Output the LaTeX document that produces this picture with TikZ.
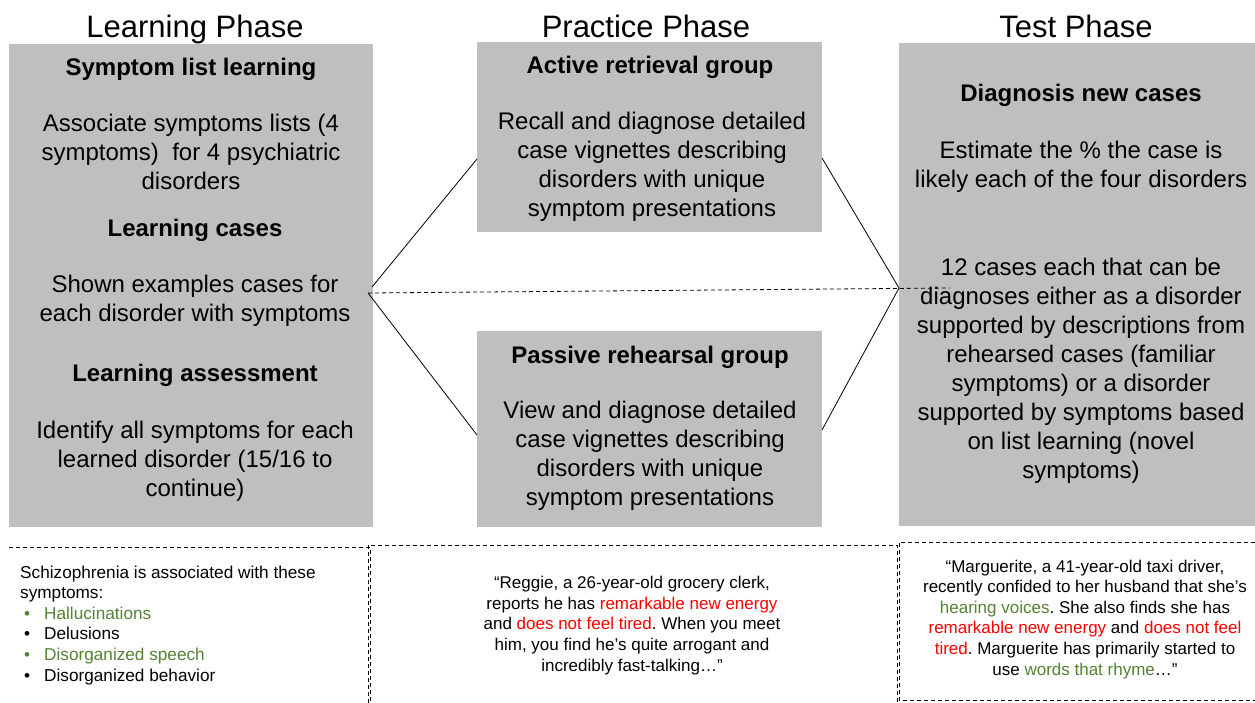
\documentclass[tikz,border=0pt]{standalone}
\usepackage{fontspec}
\setmainfont{Liberation Sans}
\frenchspacing
\usetikzlibrary{positioning}
\definecolor{boxgray}{RGB}{191,191,191}
\definecolor{symgreen}{RGB}{84,130,53}
\definecolor{symred}{RGB}{255,0,0}
\newcommand{\gsym}[1]{\textcolor{symgreen}{#1}}
\newcommand{\rsym}[1]{\textcolor{symred}{#1}}
\newcommand{\bitem}[1]{\hspace*{4pt}\makebox[20pt][l]{•}#1}
\tikzset{
phasebox/.style={
  fill=boxgray,
  draw=none,
  inner sep=0pt,
  anchor=north west
  }
}
% multi-line nodes sit on the baseline of their last line
\tikzset{
phasetitle/.style={anchor=base, inner sep=0pt, font=\fontsize{31}{36}\selectfont},
boxhead/.style={anchor=base, inner sep=0pt, font=\bfseries\fontsize{24}{29}\selectfont},
boxtext/.style={anchor=base, inner sep=0pt, align=center, font=\fontsize{24}{29}\selectfont},
casetext/.style={anchor=base, inner sep=0pt, align=center, font=\fontsize{17}{20.6}\selectfont}
}
\tikzstyle{link} = [draw, line width=0.8pt]
\tikzstyle{sep} = [draw, line width=0.8pt, dash pattern=on 4pt off 3pt]

\begin{document}
\begin{tikzpicture}[x=1pt, y=-1pt]
	\path[use as bounding box] (0,0) rectangle (1255,703);

	%titles
	\node (tlearn) at (195,38) [phasetitle] {Learning Phase};
	\node (tprac) at (646,38) [phasetitle] {Practice Phase};
	\node (ttest) at (1076,38) [phasetitle] {Test Phase};

	%boxes
	\node (learn) at (9,44) [phasebox, minimum width=364pt, minimum height=483pt] {};
	\node (retr) at (477,42) [phasebox, minimum width=345pt, minimum height=190pt] {};
	\node (rehe) at (477,331) [phasebox, minimum width=345pt, minimum height=196pt] {};
	\node (test) at (899,43) [phasebox, minimum width=356pt, minimum height=483pt] {};

	%learning phase
	\node (h00) at (191,76) [boxhead] {Symptom list learning};
	\node (b00) at (191,190) [boxtext] {Associate symptoms lists (4\\symptoms)\ \ for 4 psychiatric\\disorders};
	\node (h01) at (195,237) [boxhead] {Learning cases};
	\node (b01) at (195,321) [boxtext] {Shown examples cases for\\each disorder with symptoms};
	\node (h02) at (195,381) [boxhead] {Learning assessment};
	\node (b02) at (195,496) [boxtext] {Identify all symptoms for each\\learned disorder (15/16 to\\continue)};

	%practice phase
	\node (h10) at (650,74) [boxhead] {Active retrieval group};
	\node (b10) at (652,217) [boxtext] {Recall and diagnose detailed\\case vignettes describing\\disorders with unique\\symptom presentations};
	\node (h11) at (650,363) [boxhead] {Passive rehearsal group};
	\node (b11) at (650,505) [boxtext] {View and diagnose detailed\\case vignettes describing\\disorders with unique\\symptom presentations};

	%test phase
	\node (h20) at (1081,102) [boxhead] {Diagnosis new cases};
	\node (b20) at (1081,188) [boxtext] {Estimate the \% the case is\\likely each of the four disorders};
	\node (b21) at (1081,478) [boxtext] {12 cases each that can be\\diagnoses either as a disorder\\supported by descriptions from\\rehearsed cases (familiar\\symptoms) or a disorder\\supported by symptoms based\\on list learning (novel\\symptoms)};

	%example cases
	\node (c0) at (20,681) [casetext, anchor=base west, align=left, font=\fontsize{17.2}{20.6}\selectfont] {Schizophrenia is associated with these\\symptoms:\\\gsym{\bitem{Hallucinations}}\\\bitem{Delusions}\\\gsym{\bitem{Disorganized speech}}\\\bitem{Disorganized behavior}};
	\node (c1) at (632,671) [casetext] {“Reggie, a 26-year-old grocery clerk,\\reports he has \rsym{remarkable new energy}\\and \rsym{does not feel tired}. When you meet\\him, you find he’s quite arrogant and\\incredibly fast-talking…”};
	\node (c2) at (1085,675) [casetext] {“Marguerite, a 41-year-old taxi driver,\\recently confided to her husband that she’s\\\gsym{hearing voices}. She also finds she has\\\rsym{remarkable new energy} and \rsym{does not feel}\\\rsym{tired}. Marguerite has primarily started to\\use \gsym{words that rhyme}…”};

	%edges
	\coordinate (lout) at (372,287);
	\coordinate (lhub) at (368,293);
	\coordinate (retrin) at (477,159);
	\coordinate (rehein) at (477,435);
	\coordinate (retrout) at (822,158);
	\coordinate (reheout) at (822,430);
	\coordinate (thub) at (899,288);
	\coordinate (tend) at (950,288);

	\draw (lout) edge[link] (retrin);
	\draw (lhub) edge[link] (rehein);
	\draw (retrout) edge[link] (thub);
	\draw (thub) edge[link] (reheout);
	\draw (lhub) edge[sep] (tend);

	%case panels
	\draw[sep] (9,547) -- (370,547) -- (370,703);
	\draw[sep] (368,703) -- (368,545) -- (897,545) -- (897,703);
	\draw[sep] (1255,542) -- (899,542) -- (899,700) -- (1255,700);
\end{tikzpicture}
\end{document}
